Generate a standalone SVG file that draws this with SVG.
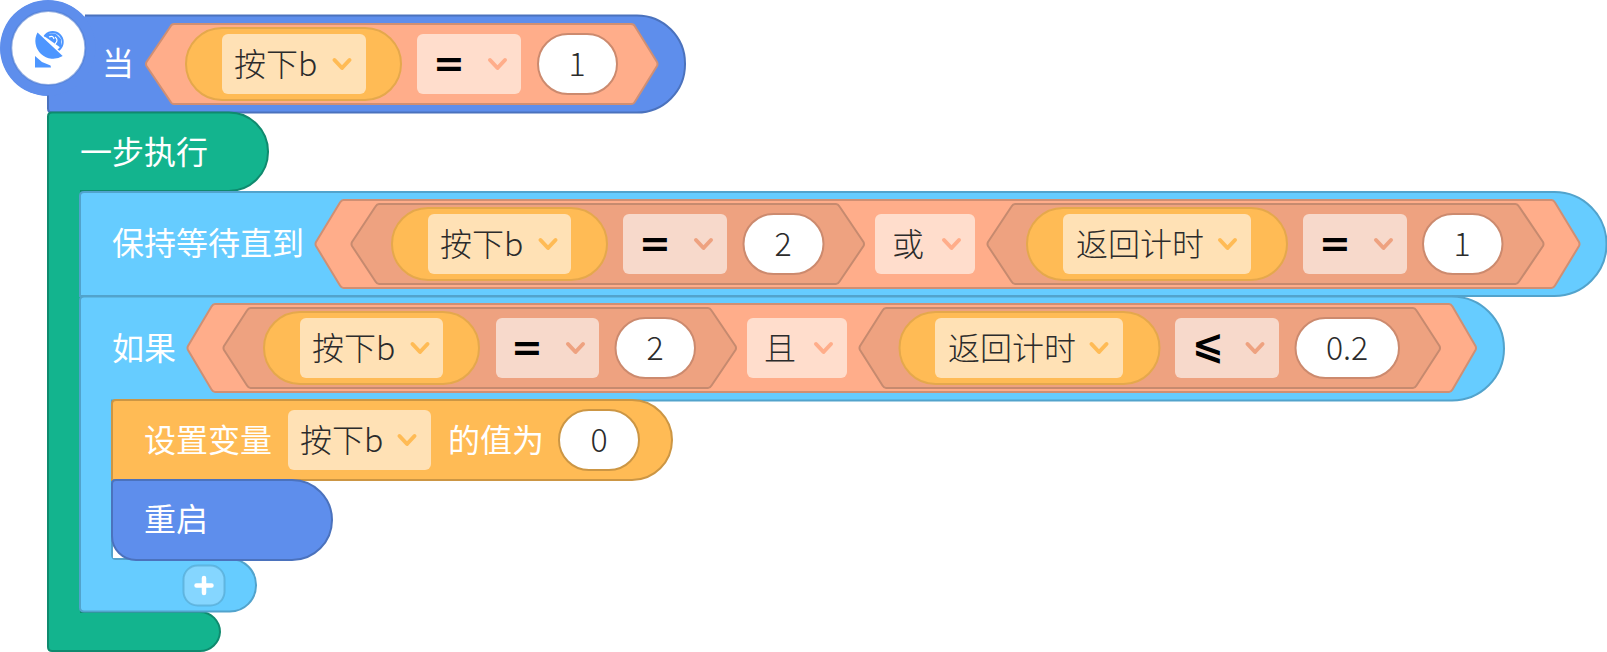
<svg xmlns="http://www.w3.org/2000/svg" width="1607" height="652" viewBox="0 0 1607 652">
<style>
text{font-family:"Noto Sans CJK SC","Noto Sans",sans-serif;font-size:32px}
.w{fill:#fff;font-weight:400}
.d{fill:#2b2b2b;font-weight:300}
.m{text-anchor:middle}
.op{fill:#000;font-family:"DejaVu Sans",sans-serif;font-weight:700;font-size:38px;text-anchor:middle}
.hat{fill:#5E8EEC;stroke:#4B72BD;stroke-width:2}
.green{fill:#13B48E;stroke:#0F8A6E;stroke-width:2}
.blue{fill:#66CCFF;stroke:#52A3CC;stroke-width:2}
.org{fill:#FFBB55;stroke:#CC9644;stroke-width:2}
.hx{fill:#FFAD8A;stroke:#D08F73;stroke-width:2;stroke-linejoin:round}
.hi{fill:#EEA280;stroke:#C68A6F;stroke-width:2;stroke-linejoin:round}
.pill{fill:#FFBB55;stroke:#E5A84C;stroke-width:2}
.dp{fill:#FFE1B5}
.dh{fill:#FFDDCC}
.di{fill:#F7D9CB}
.val{fill:#fff;stroke:#CC8A6E;stroke-width:2}
.ch{fill:none;stroke-width:4;stroke-linecap:round;stroke-linejoin:round}
.co{stroke:#FFBB55}
.cs{stroke:#FFAD8A}
.ci{stroke:#EEA280}
</style>
<g id="hat-block">
<circle cx="48" cy="48" r="48" fill="#5E8EEC"/>
<path class="hat" d="M85 15.500H637A48 48 0 0 1 685 63.500V64.500A48 48 0 0 1 637 112.500H52Q48 112.500 48 108.500V92"/>
<path d="M48 84H92V20H85V60L48 90Z" fill="#5E8EEC"/>
<circle cx="48" cy="48" r="47.500" fill="#5E8EEC"/>
<circle cx="48.300" cy="48" r="37" fill="#fff" stroke="#4F7CD0" stroke-opacity=".6" stroke-width="2"/>
<g id="icon" fill="#4D96FF">
<circle cx="52.700" cy="42" r="10" fill="#fff" stroke="#4D96FF" stroke-width="2"/>
<path d="M44 36Q50 32 56 34L61 39L61 48Z"/>
<path d="M49 37Q53 35 54 39M55 37Q59 40 55 44" fill="none" stroke="#fff" stroke-width="1.200"/>
<path d="M35 56L42 62L50.500 65.500L51 67.500H35Z"/>
<path d="M37 31.500L63 56.500" stroke="#fff" stroke-width="3"/>
<path d="M37.500 32.500L62.700 56A17.800 17.800 0 0 1 37.500 32.500Z"/>
</g>
<text class="w" x="102" y="75">当</text>
<path class="hx" d="M174 24H631Q634 24 635 26.500L657 62Q658 64 657 66L635 101.500Q634 104 631 104H174Q171.500 104 170.500 101.500L146.500 66Q145.500 64 146.500 62L170.500 26.500Q171.500 24 174 24Z"/>
<rect class="pill" x="186" y="28" width="215" height="72" rx="36"/>
<rect class="dp" x="222" y="34" width="144" height="60" rx="6"/>
<text class="d" x="234" y="76">按下b</text>
<path class="ch co" d="M334.500 60L342 68L349.500 60"/>
<rect class="dh" x="417" y="34" width="104" height="60" rx="6"/>
<text class="op" x="449" y="76">=</text>
<path class="ch cs" d="M490 60L497.500 68L505 60"/>
<rect class="val" x="538" y="34" width="79" height="60" rx="30"/>
<text class="d m" x="577" y="76">1</text>
</g>
<g id="step-block">
<path class="green" d="M52 112.500H229A39 39 0 0 1 268 151.500V152A39 39 0 0 1 229 191H81V612H200A20 20 0 0 1 220 632A20 20 0 0 1 200 651H52Q48 651 48 647V116.500Q48 112.500 52 112.500Z"/>
<text class="w" x="80" y="164">一步执行</text>
</g>
<g id="wait-block">
<path class="blue" d="M84 192H1554.500A52 52 0 0 1 1606.500 244A52 52 0 0 1 1554.500 296H80V196Q80 192 84 192Z"/>
<text class="w" x="112" y="255">保持等待直到</text>
<path class="hx" d="M343.500 200H1551.500Q1553.500 200 1555 202.500L1579 242Q1580 244 1579 246L1555 285.500Q1553.500 288 1551.500 288H343.500Q341.500 288 340 285.500L316 246Q315 244 316 242L340 202.500Q341.500 200 343.500 200Z"/>
<path class="hi" d="M379 204H836Q838 204 839.500 206.500L863.500 242Q864.500 244 863.500 246L839.500 281.500Q838 284 836 284H379Q377 284 375.500 281.500L352 246Q351 244 352 242L375.500 206.500Q377 204 379 204Z"/>
<rect class="pill" x="392" y="208" width="215" height="72" rx="36"/>
<rect class="dp" x="428" y="214" width="143" height="60" rx="6"/>
<text class="d" x="440" y="256">按下b</text>
<path class="ch co" d="M540.500 240L548 248L555.500 240"/>
<rect class="di" x="623" y="214" width="104" height="60" rx="6"/>
<text class="op" x="655" y="256">=</text>
<path class="ch ci" d="M696 240L703.500 248L711 240"/>
<rect class="val" x="743.500" y="214" width="80" height="60" rx="30"/>
<text class="d m" x="783" y="256">2</text>
<rect class="dh" x="875" y="214" width="100" height="60" rx="6"/>
<text class="d" x="892" y="256">或</text>
<path class="ch cs" d="M944 240L951.500 248L959 240"/>
<path class="hi" d="M1015 204H1515.500Q1517.500 204 1519 206.500L1543 242Q1544 244 1543 246L1519 281.500Q1517.500 284 1515.500 284H1015Q1013 284 1011.500 281.500L988 246Q987 244 988 242L1011.500 206.500Q1013 204 1015 204Z"/>
<rect class="pill" x="1027" y="208" width="260" height="72" rx="36"/>
<rect class="dp" x="1063" y="214" width="188" height="60" rx="6"/>
<text class="d" x="1076" y="256">返回计时</text>
<path class="ch co" d="M1220 240L1227.500 248L1235 240"/>
<rect class="di" x="1303" y="214" width="104" height="60" rx="6"/>
<text class="op" x="1335" y="256">=</text>
<path class="ch ci" d="M1376 240L1383.500 248L1391 240"/>
<rect class="val" x="1423" y="214" width="79.500" height="60" rx="30"/>
<text class="d m" x="1462" y="256">1</text>
</g>
<g id="if-block">
<path class="blue" d="M84 296.500H1452A52 52 0 0 1 1504 348.500A52 52 0 0 1 1452 400.500H112V555Q112 559 116 559H230A26 26 0 0 1 256 585.500A26 26 0 0 1 230 611.500H84Q80 611.500 80 607.500V300.500Q80 296.500 84 296.500Z"/>
<rect x="113" y="542" width="24" height="16" fill="#fff"/>
<text class="w" x="112" y="360">如果</text>
<path class="hx" d="M215 304H1449Q1451 304 1452.500 306.500L1475.500 346Q1476.500 348 1475.500 350L1452.500 389.500Q1451 392 1449 392H215Q213 392 211.500 389.500L188 350Q187 348 188 346L211.500 306.500Q213 304 215 304Z"/>
<path class="hi" d="M250.500 308H708Q710 308 711.500 310.500L735.500 346Q736.500 348 735.500 350L711.500 385.500Q710 388 708 388H250.500Q248.500 388 247 385.500L224 350Q223 348 224 346L247 310.500Q248.500 308 250.500 308Z"/>
<rect class="pill" x="264" y="312" width="215" height="72" rx="36"/>
<rect class="dp" x="300" y="318" width="143" height="60" rx="6"/>
<text class="d" x="312" y="360">按下b</text>
<path class="ch co" d="M412.500 344L420 352L427.500 344"/>
<rect class="di" x="496" y="318" width="103" height="60" rx="6"/>
<text class="op" x="527" y="360">=</text>
<path class="ch ci" d="M568 344L575.500 352L583 344"/>
<rect class="val" x="615.500" y="318" width="79.500" height="60" rx="30"/>
<text class="d m" x="655" y="360">2</text>
<rect class="dh" x="747" y="318" width="100" height="60" rx="6"/>
<text class="d" x="764" y="360">且</text>
<path class="ch cs" d="M816 344L823.500 352L831 344"/>
<path class="hi" d="M886 308H1413Q1415 308 1416.500 310.500L1439.500 346Q1440.500 348 1439.500 350L1416.500 385.500Q1415 388 1413 388H886Q884 388 882.500 385.500L860 350Q859 348 860 346L882.500 310.500Q884 308 886 308Z"/>
<rect class="pill" x="899.500" y="312" width="260" height="72" rx="36"/>
<rect class="dp" x="935" y="318" width="188" height="60" rx="6"/>
<text class="d" x="948" y="360">返回计时</text>
<path class="ch co" d="M1091.500 344L1099 352L1106.500 344"/>
<rect class="di" x="1175" y="318" width="104" height="60" rx="6"/>
<text class="op" x="1208" y="358">⩽</text>
<path class="ch ci" d="M1247.500 344L1255 352L1262.500 344"/>
<rect class="val" x="1295.500" y="318" width="103.500" height="60" rx="30"/>
<text class="d m" x="1347" y="360">0.2</text>
<g id="add-button">
<rect x="183.500" y="565.500" width="41" height="40" rx="14" fill="#85D6FF" stroke="#52A3CC" stroke-opacity=".6" stroke-width="2"/>
<path d="M196.500 585.500H211.500M204 578V593" stroke="#fff" stroke-width="4.500" stroke-linecap="round"/>
</g>
</g>
<g id="set-variable-block">
<path class="org" d="M116 400H632A40 40 0 0 1 672 440A40 40 0 0 1 632 480H112V404Q112 400 116 400Z"/>
<text class="w" x="144" y="452">设置变量</text>
<rect class="dp" x="288" y="410" width="143" height="60" rx="6"/>
<text class="d" x="300" y="452">按下b</text>
<path class="ch co" d="M399.500 436L407 444L414.500 436"/>
<text class="w" x="448" y="452">的值为</text>
<rect class="val" x="559" y="410" width="80" height="60" rx="30" style="stroke:#CC9644"/>
<text class="d m" x="599" y="452">0</text>
</g>
<g id="restart-block">
<path class="hat" d="M116 480H292A40 40 0 0 1 332 520A40 40 0 0 1 292 560H136A24 24 0 0 1 112 536V484Q112 480 116 480Z"/>
<text class="w" x="144" y="531">重启</text>
</g>
</svg>
